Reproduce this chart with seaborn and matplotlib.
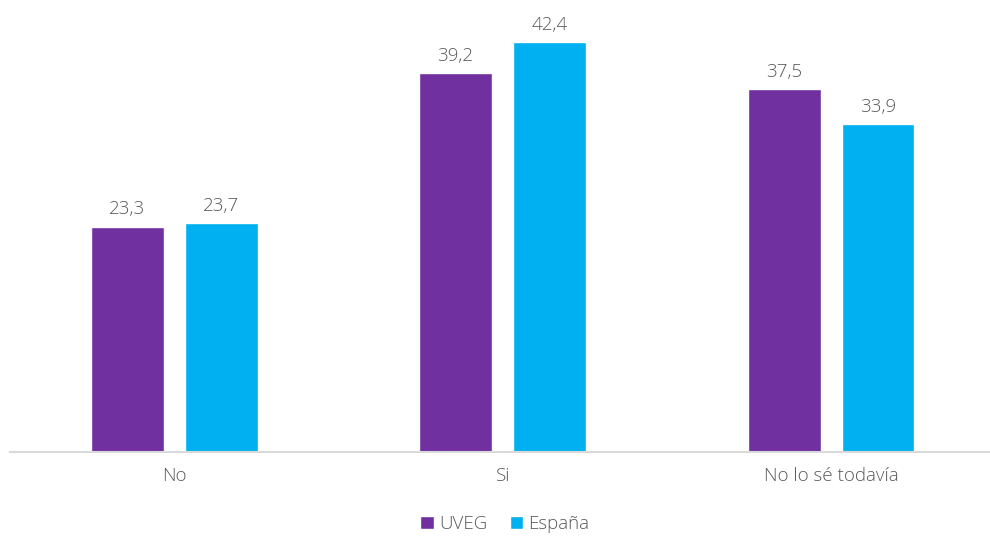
import matplotlib
matplotlib.use("Agg")
import matplotlib.pyplot as plt
import seaborn as sns
import pandas as pd

categories = ["No", "Si", "No lo sé todavía"]
uveg = [23.3, 39.2, 37.5]
espana = [23.7, 42.4, 33.9]
series_names = ["UVEG", "España"]
colors = ["#7030A0", "#00B0F0"]

df = pd.DataFrame({
    "cat": categories * 2,
    "serie": [series_names[0]] * 3 + [series_names[1]] * 3,
    "valor": uveg + espana,
})

sns.set_theme(style="white")
plt.rcParams["font.family"] = ["Open Sans", "DejaVu Sans"]
plt.rcParams["font.weight"] = "light"
text_color = "#595959"
fs = 13.5

fig = plt.figure(figsize=(9.9, 5.37), dpi=100)
ax = fig.add_axes([10 / 990, 85 / 537, 980 / 990, 452 / 537])

sns.barplot(data=df, x="cat", y="valor", hue="serie", order=categories,
            hue_order=series_names, palette=colors, width=0.572, gap=0.224,
            saturation=1, ax=ax, legend=True)

for cont in ax.containers:
    ax.bar_label(cont, labels=[f"{v:.1f}".replace(".", ",") for v in cont.datavalues],
                 padding=6, fontsize=fs, color=text_color, fontweight="light")

ax.set_xlim(-0.5, 2.484)
ax.set_ylim(0, 46.75)
ax.set_xlabel("")
ax.set_ylabel("")
ax.set_yticks([])
for s in ["top", "left", "right"]:
    ax.spines[s].set_visible(False)
ax.spines["bottom"].set_color("#D9D9D9")
ax.spines["bottom"].set_linewidth(1.5)
ax.tick_params(axis="x", length=0, pad=11, labelsize=fs, labelcolor=text_color)
for t in ax.get_xticklabels():
    t.set_fontweight("light")

handles, labels = ax.get_legend_handles_labels()
ax.legend(handles, labels, loc="center", bbox_to_anchor=(505 / 990, 13 / 537),
          bbox_transform=fig.transFigure, ncol=2, frameon=False,
          prop={"size": fs, "weight": "light"},
          handlelength=0.7, handleheight=0.7, handletextpad=0.3, columnspacing=1.2,
          labelcolor=text_color)

fig.savefig("out.png", dpi=100)
